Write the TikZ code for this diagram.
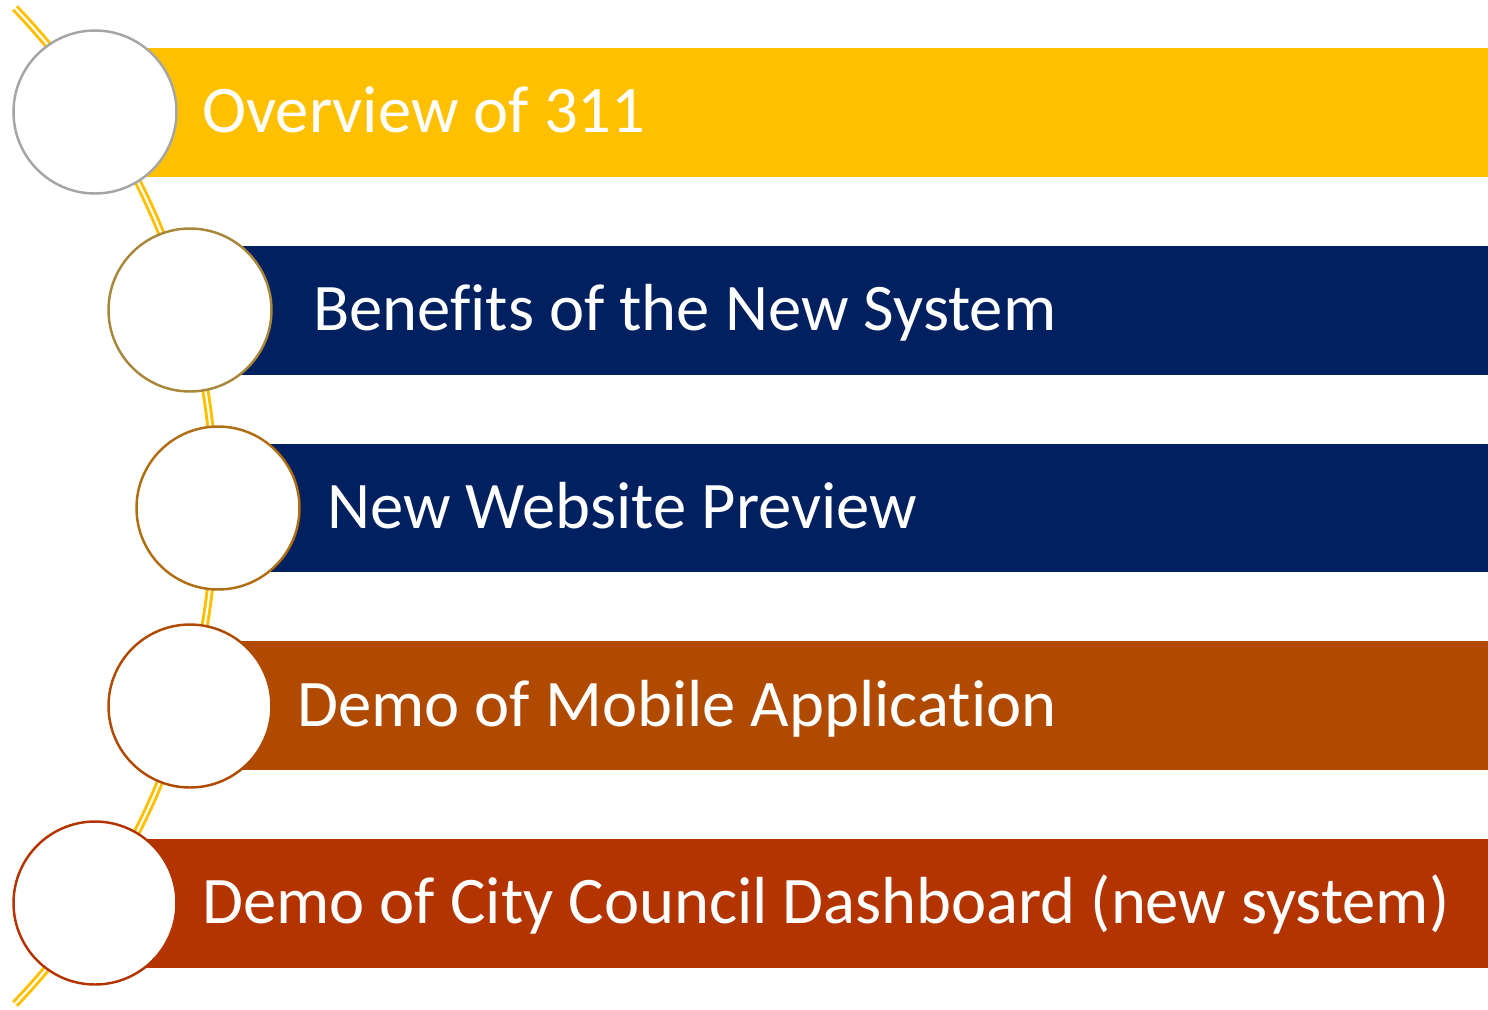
\documentclass[tikz,border=0pt]{standalone}
\usepackage{fontspec}
\setmainfont{Carlito}[Ligatures={NoCommon,NoRare}]
\usetikzlibrary{positioning}

\definecolor{barGold}{HTML}{FFC000}
\definecolor{barNavy}{HTML}{002060}
\definecolor{barRust}{HTML}{B04A00}
\definecolor{barBrick}{HTML}{B43400}
\definecolor{ringGray}{HTML}{A5A5A5}
\definecolor{ringOchre}{HTML}{A8873A}
\definecolor{ringAmber}{HTML}{B06E12}

\begin{document}
\begin{tikzpicture}[
      x=0.02cm, y=-0.02cm,
      bubble/.style={
          circle,
          draw,
          fill=white,
          line width=1.4pt,
          minimum size=3.26cm,
          inner sep=0pt
        },
      label/.style={
          anchor=base west,
          text=white,
          inner sep=0pt,
          font=\fontsize{37.9pt}{40pt}\selectfont
        },
      spine/.style={
          draw=barGold,
          double=white,
          line width=1.7pt,
          double distance=1.2pt
        }
    ]
    \useasboundingbox (0,0) rectangle (1488,1009);

    % Bars
    \fill[barGold]  (146,48)  rectangle (1488,177);
    \fill[barNavy]  (241,246) rectangle (1488,375);
    \fill[barNavy]  (269,444) rectangle (1488,572);
    \fill[barRust]  (241,641) rectangle (1488,770);
    \fill[barBrick] (146,839) rectangle (1488,968);

    % Curved spine behind the circles
    \coordinate (top) at (15,8);
    \coordinate (bot) at (15,1005);
    \draw[spine] (top) arc[start angle=43.7, end angle=-43.7, radius=14.42cm];

    % Circles
    \node[bubble, draw=ringGray]  at (95,112)  (c1) {};
    \node[bubble, draw=ringOchre] at (190,310) (c2) {};
    \node[bubble, draw=ringAmber] at (218,508) (c3) {};
    \node[bubble, draw=barRust]   at (190,706) (c4) {};
    \node[bubble, draw=barBrick]  at (95,903)  (c5) {};

    % Labels
    \node[label] at (202,132) (t1) {Overview of 311};
    \node[label] at (313,330) (t2) {Benefits of the New System};
    \node[label] at (327,528) (t3) {New Website Preview};
    \node[label] at (297,726) (t4) {Demo of Mobile Application};
    \node[label] at (202,923) (t5) {Demo of City Council Dashboard (new system)};
  \end{tikzpicture}
\end{document}
